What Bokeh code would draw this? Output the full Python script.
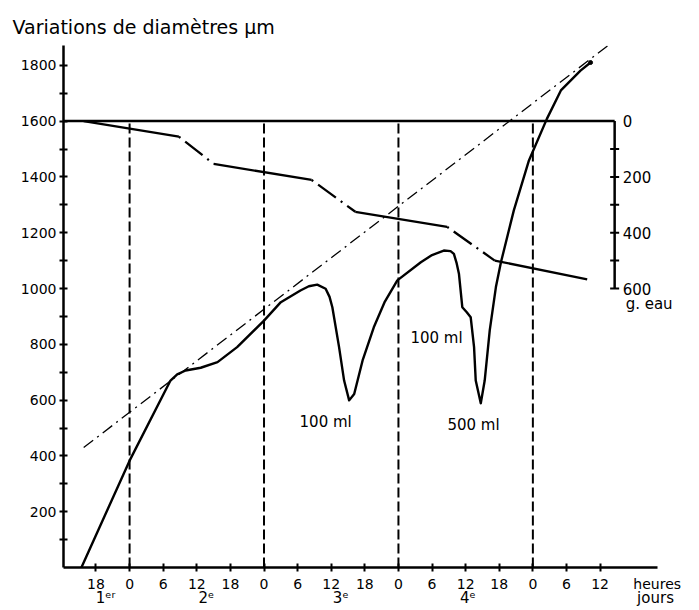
from bokeh.plotting import figure
from bokeh.models import Range1d, FixedTicker, Label, LinearAxis
from bokeh.embed import file_html
from bokeh.resources import INLINE

# ---------------- data ----------------
# time in hours counted from 0 h of day 2
hour_ticks = [-6, 0, 6, 12, 18, 24, 30, 36, 42, 48, 54, 60, 66, 72, 78, 84]
hour_labels = ["18", "0", "6", "12", "18", "0", "6", "12", "18", "0", "6", "12", "18", "0", "6", "12"]
day_midnights = [0, 24, 48, 72]
day_labels = ["1ᵉʳ", "2ᵉ", "3ᵉ", "4ᵉ"]
day_label_pos = [-4.3, 13.7, 37.7, 60.4]
hours_name, hours_name_pos = "heures", 94.2
days_name, days_name_pos = "jours", 93.9

y_major = [200, 400, 600, 800, 1000, 1200, 1400, 1600, 1800]
y_minor = [100, 300, 500, 700, 900, 1100, 1300, 1500, 1700]

# diameter variation (µm)
diam_h = [-8.6, 0, 7.3, 8.5, 10, 12.7, 15.7, 19.2, 24, 27, 30.5, 32, 33.5, 35, 35.7, 36.2,
          37.4, 38.3, 39.2, 40.1, 41.6, 43.6, 45.5, 47.8, 52, 54, 56.1, 57.3, 57.9, 58.4,
          58.8, 59.4, 60.2, 60.9, 61.5, 61.8, 62.7, 63.4, 64.3, 65.4, 66.3, 68.6, 71.3,
          74.5, 77, 80.5, 82.3]
diam_v = [0, 383, 670, 692, 706, 716, 736, 790, 885, 951, 993, 1008, 1014, 999, 970, 933,
          790, 670, 599, 622, 742, 861, 950, 1029, 1094, 1120, 1136, 1134, 1124, 1090,
          1053, 933, 915, 897, 790, 670, 589, 670, 850, 1005, 1094, 1280, 1459,
          1608, 1710, 1781, 1810]

# trend (dash-dot) line
trend_h = [-8.2, 86.6]
trend_v = [430, 1889]

# water loss (g eau), right scale: 0 at the 1600 µm level, 600 at the 1000 µm level
water_h = [-8.2, 8.8, 15.0, 32.5, 40.3, 56.7, 65.2, 81.7]
water_g = [0, 56, 153, 211, 325, 379, 500, 567]
water_style = ["solid", "dashdot", "solid", "dashdot", "solid", "dashdot", "solid"]

right_axis_h = 86.6
right_ticks = [0, 100, 200, 300, 400, 500, 600]
right_labels = [0, 200, 400, 600]
right_zero_level = 1600
right_unit = "g. eau"

annotations = [("100 ml", 35.0, 520), ("100 ml", 54.8, 824), ("500 ml", 61.4, 509)]

title_text = "Variations de diamètres µm"
FONT = "DejaVu Sans"

X_START, X_AXIS_END, X_END = -11.8, 94.3, 100.5
Y_END = 1871

# ---------------- figure ----------------
p = figure(width=699, height=610, x_range=Range1d(X_START, X_END), y_range=Range1d(0, Y_END),
           output_backend="svg", toolbar_location=None,
           min_border_left=63, min_border_right=7, min_border_top=45, min_border_bottom=43)
p.xgrid.visible = False
p.ygrid.visible = False
p.outline_line_color = None
p.background_fill_color = "white"
p.border_fill_color = "white"

p.title.text = title_text
p.title.align = "left"
p.title.offset = -51
p.title.text_font = FONT
p.title.text_font_size = "19px"
p.title.text_font_style = "normal"
p.title.text_color = "black"
p.title.standoff = 16

for ax in (p.xaxis[0], p.yaxis[0]):
    ax.axis_line_width = 2.5
    ax.axis_line_color = "black"
    ax.major_tick_line_width = 2
    ax.major_tick_line_color = "black"
    ax.major_tick_in = 4
    ax.major_tick_out = 4
    ax.minor_tick_line_width = 2
    ax.minor_tick_line_color = "black"
    ax.minor_tick_in = 4
    ax.minor_tick_out = 4
    ax.major_label_text_font = FONT
    ax.major_label_text_font_size = "14px"
    ax.major_label_text_color = "black"

# bottom axis: labels from (invisible) major ticks, crosses from minor ticks
xa = p.xaxis[0]
xa.bounds = (X_START, X_AXIS_END)
xa.ticker = FixedTicker(ticks=hour_ticks + [hours_name_pos], minor_ticks=hour_ticks)
overrides = {t: l for t, l in zip(hour_ticks, hour_labels)}
overrides[hours_name_pos] = hours_name
xa.major_label_overrides = overrides
xa.major_tick_in = 0
xa.major_tick_out = 0
xa.major_label_standoff = 4
xa.axis_label_standoff = 0

# second row below: day names
day_axis = LinearAxis(ticker=FixedTicker(ticks=day_label_pos + [days_name_pos], minor_ticks=[]),
                      major_label_overrides={**{t: l for t, l in zip(day_label_pos, day_labels)},
                                             days_name_pos: days_name},
                      axis_line_color=None, major_tick_line_color=None, minor_tick_line_color=None,
                      major_tick_in=0, major_tick_out=0, minor_tick_in=0, minor_tick_out=0,
                      major_label_standoff=-6, axis_label_standoff=0, major_label_text_font=FONT,
                      major_label_text_font_size="15px", major_label_text_color="black")
p.add_layout(day_axis, "below")

ya = p.yaxis[0]
ya.ticker = FixedTicker(ticks=y_major, minor_ticks=y_minor)
ya.major_label_standoff = 3

# vertical dashed day lines
p.segment(x0=day_midnights, y0=[0] * len(day_midnights), x1=day_midnights,
          y1=[right_zero_level] * len(day_midnights),
          line_color="black", line_width=2, line_dash="10 4")

# top horizontal line (0 g eau level)
p.line([X_START, right_axis_h], [right_zero_level, right_zero_level],
       line_color="black", line_width=2.5)

# right scale (g eau)
r_levels = [right_zero_level - g for g in right_ticks]
p.line([right_axis_h, right_axis_h], [r_levels[0], r_levels[-1]], line_color="black", line_width=2.5)
p.scatter(x=[right_axis_h] * (len(r_levels) - 1), y=r_levels[1:], marker="dash", size=9,
          line_color="black", line_width=2)
for g in right_labels:
    p.add_layout(Label(x=right_axis_h, y=right_zero_level - g, text=str(g), x_offset=8,
                       text_font=FONT, text_font_size="15px", text_color="black",
                       text_align="left", text_baseline="middle"))
p.add_layout(Label(x=right_axis_h, y=right_zero_level - right_ticks[-1], text=right_unit,
                   x_offset=11, y_offset=-15,
                   text_font=FONT, text_font_size="15px", text_color="black",
                   text_align="left", text_baseline="middle"))

# trend dash-dot line
p.line(trend_h, trend_v, line_color="black", line_width=1.3, line_dash="12 5 2 5")

# water loss curve
for i, st in enumerate(water_style):
    xs = [water_h[i], water_h[i + 1]]
    ys = [right_zero_level - water_g[i], right_zero_level - water_g[i + 1]]
    if st == "solid":
        p.line(xs, ys, line_color="black", line_width=2.3)
    else:
        p.line(xs, ys, line_color="black", line_width=2.3, line_dash="2 6 22 6")

# diameter curve
p.line(diam_h, diam_v, line_color="black", line_width=2.4, line_join="round")
p.scatter(x=[diam_h[-1]], y=[diam_v[-1]], marker="circle", size=4, color="black")

# annotations
for txt, hx, vy in annotations:
    p.add_layout(Label(x=hx, y=vy, text=txt, text_font=FONT, text_font_size="15px",
                       text_color="black", text_align="center", text_baseline="middle"))

open("out.html", "w").write(file_html(p, INLINE))
